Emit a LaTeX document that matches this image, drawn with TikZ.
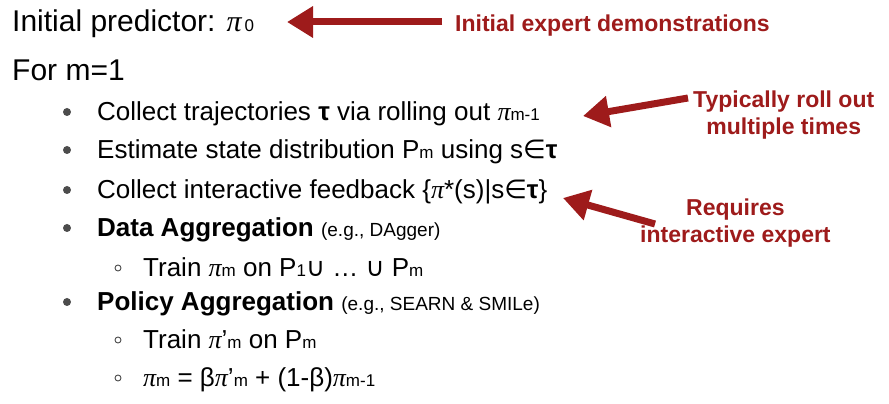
\documentclass[tikz,border=0pt]{standalone}
\usepackage{fontspec}
\setmainfont{Liberation Sans}
\newfontfamily\pifont{Liberation Serif}
\newfontfamily\djvfont{DejaVu Sans}
\usetikzlibrary{arrows.meta}
\definecolor{dred}{HTML}{9E1B1B}
\newcommand{\pii}{{\pifont\itshape π}}
\newcommand{\sbs}[1]{{\fontsize{17}{17}\selectfont #1}}
\newcommand{\inn}{{\djvfont ∈}}
\newcommand{\cupp}{{\djvfont ∪}}
\tikzset{
  big/.style={anchor=base west,font=\fontsize{30}{34}\selectfont,inner sep=0},
  txt/.style={anchor=base west,font=\fontsize{26}{30}\selectfont,inner sep=0},
  lab/.style={anchor=base west,font=\fontsize{23}{27}\bfseries\selectfont,text=dred,inner sep=0,align=left},
  dot/.style={circle,fill=black!70,inner sep=0,minimum size=8pt},
  ring/.style={circle,draw=black!70,line width=0.9pt,inner sep=0,minimum size=6pt},
  redarrow/.style={dred,line width=7pt,-{Triangle[length=26pt,width=30pt]}}
}
\begin{document}
\begin{tikzpicture}[x=1pt,y=1pt]
\useasboundingbox (0,0) rectangle (889,404);
\node[big] (t1) at (12,372) {Initial predictor: \pii\sbs{\,0}};
\node[big] (t2) at (12,323) {For m=1};
\node[dot] (b1) at (67,292) {};
\node[txt] (l1) at (97,283) {Collect trajectories \textbf{τ} via rolling out \pii\sbs{m-1}};
\node[dot] (b2) at (67,254) {};
\node[txt] (l2) at (97,245) {Estimate state distribution P\sbs{m} using s\inn\textbf{τ}};
\node[dot] (b3) at (67,214) {};
\node[txt] (l3) at (97,205) {Collect interactive feedback \{\pii*(s)|s\inn\textbf{τ}\}};
\node[dot] (b4) at (67,176) {};
\node[txt] (l4) at (97,167) {\textbf{Data Aggregation} {\fontsize{19}{22}\selectfont (e.g., DAgger)}};
\node[ring] (c1) at (118,136) {};
\node[txt] (s1) at (143,127) {Train \pii\sbs{m} on P\sbs{1}\cupp{} … \cupp{} P\sbs{m}};
\node[dot] (b5) at (67,102) {};
\node[txt] (l5) at (97,93) {\textbf{Policy Aggregation} {\fontsize{19}{22}\selectfont (e.g., SEARN \& SMILe)}};
\node[ring] (c2) at (118,64) {};
\node[txt] (s2) at (143,55) {Train \pii'\sbs{m} on P\sbs{m}};
\node[ring] (c3) at (118,26) {};
\node[txt] (s3) at (143,17) {\pii\sbs{m} = β\pii'\sbs{m} + (1-β)\pii\sbs{m-1}};
\node[lab] (r1) at (455,372) {Initial expert demonstrations};
\node[lab,anchor=north west,align=center] (r2) at (693,313) {Typically roll out\\multiple times};
\node[lab,anchor=north west,align=center] (r3) at (640,205) {Requires\\interactive expert};
\coordinate (a1s) at (442,382);
\coordinate (a1e) at (287,382);
\coordinate (a2s) at (688,306);
\coordinate (a2e) at (583,288);
\coordinate (a3s) at (655,180);
\coordinate (a3e) at (563,206);
\draw[redarrow] (a1s) -- (a1e);
\draw[redarrow] (a2s) -- (a2e);
\draw[redarrow] (a3s) -- (a3e);
\end{tikzpicture}
\end{document}
